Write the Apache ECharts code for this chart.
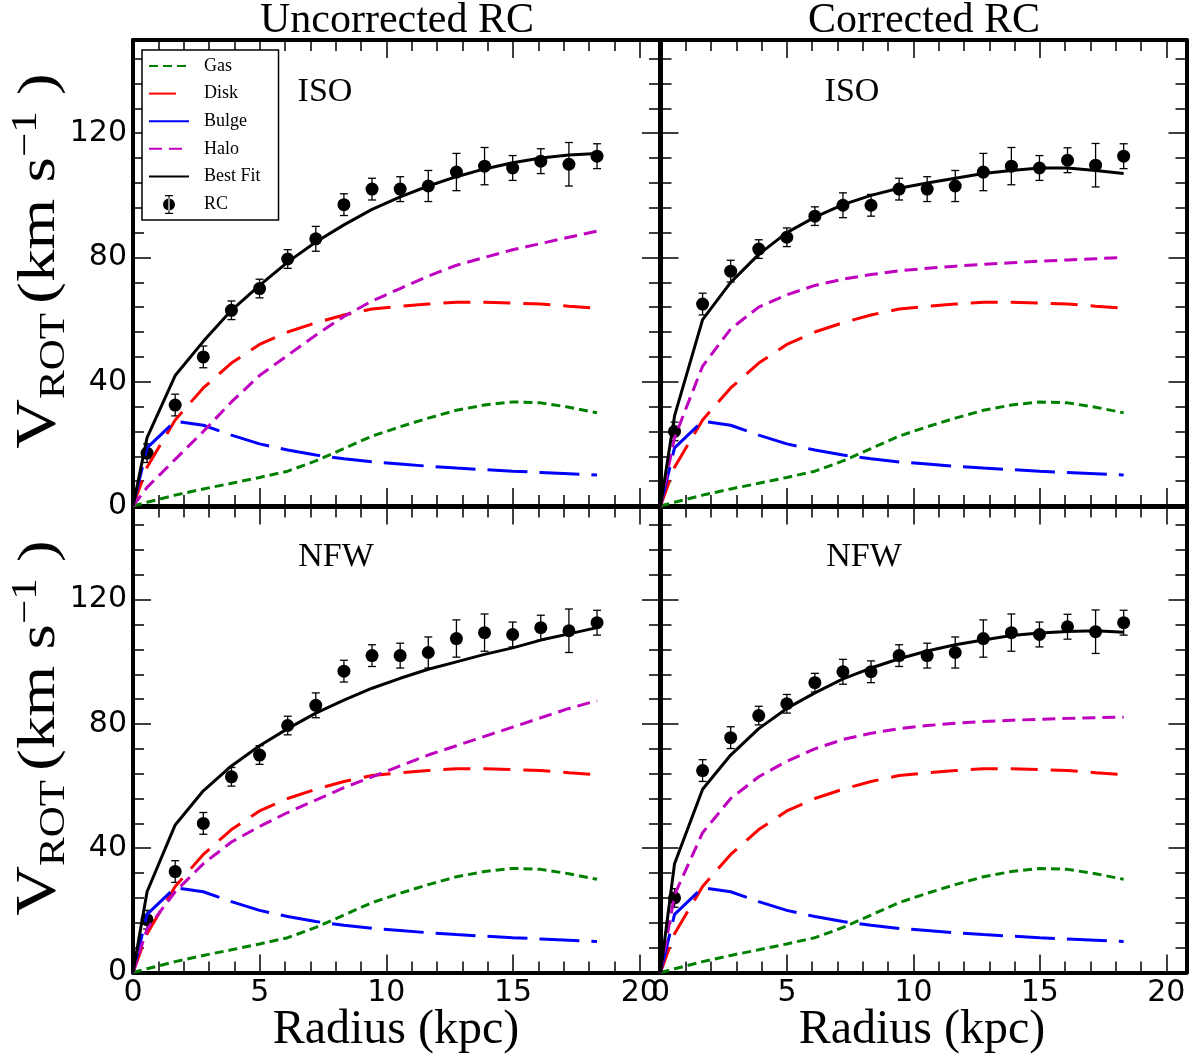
<!DOCTYPE html>
<html>
<head>
<meta charset="utf-8">
<script src="https://cdn.jsdelivr.net/npm/echarts@6/dist/echarts.min.js"></script>
<style>
  html, body { margin: 0; padding: 0; background: #fff; }
  #chart { width: 1192px; height: 1059px; }
</style>
</head>
<body>
<div id="chart"></div>
<script>
// radii of the observed points (kpc); model curves also start at r = 0
const radius = [0.555, 1.665, 2.775, 3.885, 4.995, 6.105, 7.215, 8.325, 9.435,
  10.545, 11.655, 12.765, 13.875, 14.985, 16.095, 17.205, 18.315];
const modelRadius = [0].concat(radius);

// observed rotation curve
const rcUncorrected = [17, 32.5, 48, 63, 70, 79.5, 86, 97, 102, 102, 103, 107.5, 109.4, 108.8, 111, 110, 112.6];
const rcCorrected = [24, 65, 75.6, 82.7, 86.5, 93.3, 96.8, 96.8, 102, 102, 103, 107.5, 109.4, 108.8, 111.3, 109.7, 112.6];
const rcError = [3, 3.5, 3.5, 3, 3, 3, 4, 3.5, 3.5, 4, 5, 6, 6, 4, 4, 7, 4];

// baryonic components (same in every panel)
const gas = [0, 1.2, 3.5, 5.5, 7.3, 9.2, 11.2, 14.5, 18.5, 22.5, 25.5, 28.3, 30.8, 32.5, 33.5, 33.2, 31.8, 30];
const disk = [0, 12.5, 27.7, 38, 46, 52, 56, 59, 61.5, 63.4, 64.3, 65, 65.6, 65.6, 65.3, 65, 64.3, 63.7];
const bulge = [0, 18.7, 27.3, 26, 22.8, 20, 18, 16.4, 15.2, 14.2, 13.5, 12.8, 12.2, 11.7, 11.2, 10.8, 10.4, 10.0];

// halo + best fit per panel
const haloIsoUnc = [0, 6, 15, 24, 33.5, 42, 48.5, 55, 61, 66, 70, 74, 77.5, 80, 82.5, 84.5, 86.5, 88.5];
const fitIsoUnc = [0, 22, 42, 53, 63, 71, 78.5, 85, 90.5, 95.5, 99.5, 103, 106, 108.5, 110.5, 112, 113, 113.5];
const haloIsoCor = [0, 22, 45, 57, 64, 68, 71, 73, 74.5, 75.7, 76.5, 77.2, 77.8, 78.3, 78.8, 79.2, 79.6, 80];
const fitIsoCor = [0, 29, 60, 72, 81, 88, 93, 97, 100, 102.3, 104, 105.5, 107, 108, 108.8, 108.8, 108, 107];
const haloNfwUnc = [0, 14, 26, 35, 42, 47, 51.5, 55.5, 59.5, 63, 66.5, 70, 73, 76, 79, 82, 85, 87.5];
const fitNfwUnc = [0, 26, 47.5, 58.5, 66.5, 73, 78.5, 83.5, 87.7, 91.5, 94.7, 97.6, 100, 102.4, 104.5, 107, 109, 111];
const haloNfwCor = [0, 25, 45, 56, 63, 68, 72, 75, 77, 78.5, 79.5, 80.2, 80.8, 81.2, 81.5, 81.8, 82, 82.2];
const fitNfwCor = [0, 35, 59, 70, 78.5, 85, 90, 94.5, 98, 101, 103.5, 105.5, 107, 108.5, 109.3, 109.8, 110, 109.5];

const X_MAX = 20.8;
const Y_MAX = 150;
const SERIF = "'Liberation Serif', 'Times New Roman', serif";
const SANS = "'DejaVu Sans', sans-serif";

const panels = [
  { grid: { left: 133, top: 40, width: 527, height: 466 }, rc: rcUncorrected, halo: haloIsoUnc, fit: fitIsoUnc, xLab: false, yLab: true },
  { grid: { left: 660.5, top: 40, width: 526, height: 466 }, rc: rcCorrected, halo: haloIsoCor, fit: fitIsoCor, xLab: false, yLab: false },
  { grid: { left: 133, top: 506.5, width: 527, height: 466 }, rc: rcUncorrected, halo: haloNfwUnc, fit: fitNfwUnc, xLab: true, yLab: true },
  { grid: { left: 660.5, top: 506.5, width: 526, height: 466 }, rc: rcCorrected, halo: haloNfwCor, fit: fitNfwCor, xLab: true, yLab: false },
];

function pairs(xs, ys) {
  return xs.map(function (x, i) { return [x, ys[i]]; });
}

// 4 axes per side: major (long ticks, line, labels) + minor (short ticks)
function makeAxes(g, dim, showLabel) {
  const isX = dim === 'x';
  const max = isX ? X_MAX : Y_MAX;
  const major = isX ? 5 : 40;
  const minor = isX ? 1 : 8;
  const sides = isX ? ['bottom', 'top'] : ['left', 'right'];
  const out = [];
  sides.forEach(function (side, k) {
    out.push({
      type: 'value', gridIndex: g, position: side, min: 0, max: max, interval: major,
      splitLine: { show: false },
      axisLine: { show: true, onZero: false, lineStyle: { color: '#000', width: 4 } },
      axisTick: { show: true, inside: true, length: 18, lineStyle: { color: '#000', width: 1.5 } },
      axisLabel: {
        show: showLabel && k === 0, showMaxLabel: false, margin: 6,
        color: '#000', fontSize: 30, fontFamily: SANS
      }
    });
    out.push({
      type: 'value', gridIndex: g, position: side, min: 0, max: max, interval: minor,
      splitLine: { show: false },
      axisLine: { show: false, onZero: false },
      axisTick: { show: true, inside: true, length: 11, lineStyle: { color: '#000', width: 1.5 } },
      axisLabel: { show: false }
    });
  });
  return out;
}

const xAxis = [], yAxis = [], series = [];
panels.forEach(function (p, g) {
  xAxis.push.apply(xAxis, makeAxes(g, 'x', p.xLab));
  yAxis.push.apply(yAxis, makeAxes(g, 'y', p.yLab));
  const ax = { xAxisIndex: g * 4, yAxisIndex: g * 4 };
  const line = function (name, data, color, type, width) {
    return Object.assign({
      name: name, type: 'line', data: pairs(modelRadius, data), symbol: 'none', silent: true,
      lineStyle: { color: color, width: width, type: type, cap: 'butt' },
      itemStyle: { color: color }
    }, ax);
  };
  series.push(line('Gas', gas, '#008000', [9, 5], 3));
  series.push(line('Disk', disk, '#ff0000', [27, 13], 3));
  series.push(line('Bulge', bulge, '#0000ff', [40, 12], 3));
  series.push(line('Halo', p.halo, '#bf00bf', [13, 7], 3));
  series.push(line('Best Fit', p.fit, '#000000', 'solid', 3));
  series.push(Object.assign({
    name: 'RC', type: 'custom', silent: true, clip: false,
    data: radius.map(function (r, i) { return [r, p.rc[i], rcError[i]]; }),
    encode: { x: 0, y: 1 },
    renderItem: function (params, api) {
      const x = api.value(0), y = api.value(1), e = api.value(2);
      const t = api.coord([x, y + e]), b = api.coord([x, y - e]);
      const st = { stroke: '#000', lineWidth: 1.3 };
      return {
        type: 'group', children: [
          { type: 'line', shape: { x1: t[0], y1: t[1], x2: b[0], y2: b[1] }, style: st },
          { type: 'line', shape: { x1: t[0] - 4, y1: t[1], x2: t[0] + 4, y2: t[1] }, style: st },
          { type: 'line', shape: { x1: b[0] - 4, y1: b[1], x2: b[0] + 4, y2: b[1] }, style: st }
        ]
      };
    }
  }, ax));
  series.push(Object.assign({
    name: 'RC', type: 'scatter', silent: true, symbol: 'circle', symbolSize: 13,
    data: pairs(radius, p.rc), itemStyle: { color: '#000', opacity: 1 }
  }, ax));
});

const rcIcon = 'path://M0,9.5a6,6 0 1,0 12,0a6,6 0 1,0 -12,0Z M5.4,0H6.6V19H5.4Z M2,0H10V1.2H2Z M2,17.8H10V19H2Z';
const noMarker = { opacity: 0 };

const yTitle = {
  text: '{v|V}{s|ROT}{g| }{p|(km s}{u|−1}{p| )}',
  rich: {
    v: { fontFamily: SERIF, fontSize: 56, fill: '#000' },
    s: { fontFamily: SERIF, fontSize: 35, fill: '#000', padding: [30, 0, 0, 0] },
    g: { fontFamily: SERIF, fontSize: 30 },
    p: { fontFamily: SERIF, fontSize: 53, fill: '#000' },
    u: { fontFamily: SERIF, fontSize: 35, fill: '#000', padding: [0, 0, 26, 0] }
  },
  align: 'center', verticalAlign: 'middle'
};

function label(text, x, y, size) {
  return {
    type: 'text', x: x, y: y, silent: true,
    style: { text: text, fill: '#000', font: size + 'px ' + SERIF, align: 'center', verticalAlign: 'middle' }
  };
}

const chart = echarts.init(document.getElementById('chart'), null, { renderer: 'canvas' });
chart.setOption({
  animation: false,
  backgroundColor: '#fff',
  grid: panels.map(function (p) {
    return Object.assign({ containLabel: false, outerBoundsMode: 'none' }, p.grid);
  }),
  xAxis: xAxis,
  yAxis: yAxis,
  legend: {
    orient: 'vertical', left: 142, top: 50, z: 10,
    backgroundColor: '#fff', borderColor: '#000', borderWidth: 1.5, borderRadius: 0,
    padding: [7, 18, 6, 6], itemWidth: 40, itemHeight: 19, itemGap: 9.6,
    textStyle: { fontFamily: SERIF, fontSize: 18, color: '#000', padding: [0, 0, 0, 10] },
    data: [
      { name: 'Gas', itemStyle: noMarker },
      { name: 'Disk', itemStyle: noMarker },
      { name: 'Bulge', itemStyle: noMarker },
      { name: 'Halo', itemStyle: noMarker },
      { name: 'Best Fit', itemStyle: noMarker },
      { name: 'RC', icon: rcIcon, itemStyle: { color: '#000', opacity: 1 } }
    ],
    selectedMode: false
  },
  graphic: [
    label('Uncorrected RC', 397, 21, 42),
    label('Corrected RC', 924, 21, 42),
    label('ISO', 325, 92, 34),
    label('ISO', 852, 92, 34),
    label('NFW', 336, 557, 34),
    label('NFW', 864, 557, 34),
    label('Radius (kpc)', 396, 1030, 48),
    label('Radius (kpc)', 922, 1030, 48),
    { type: 'text', x: 40, y: 261, rotation: Math.PI / 2, scaleX: 1.23, silent: true, style: yTitle },
    { type: 'text', x: 40, y: 728, rotation: Math.PI / 2, scaleX: 1.23, silent: true, style: yTitle }
  ],
  series: series
});
</script>
</body>
</html>
